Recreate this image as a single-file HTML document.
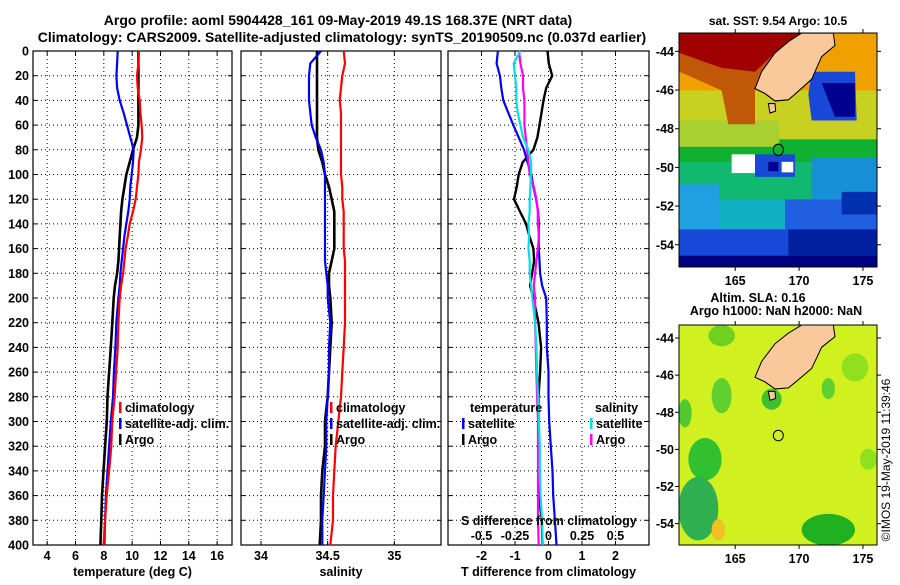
<!DOCTYPE html>
<html><head><meta charset="utf-8"><style>
body{margin:0;background:#fff;}
svg text{font-family:"Liberation Sans",sans-serif;font-weight:bold;font-size:12.5px;fill:#000;}
</style></head><body>
<svg id="fig" width="900" height="580" viewBox="0 0 900 580" xmlns="http://www.w3.org/2000/svg">
<text x="338" y="25" text-anchor="middle" style="font-size:14px">Argo profile: aoml 5904428_161 09-May-2019 49.1S 168.37E (NRT data)</text>
<text x="342" y="42" text-anchor="middle" style="font-size:14px">Climatology: CARS2009. Satellite-adjusted climatology: synTS_20190509.nc (0.037d earlier)</text>
<g id="plots"></g>
<defs>
<clipPath id="c1"><rect x="679" y="33" width="198" height="234"/></clipPath>
<clipPath id="c2"><rect x="679" y="325" width="198" height="220"/></clipPath>
</defs>
<text x="778" y="25" text-anchor="middle" style="font-size:12px">sat. SST: 9.54 Argo: 10.5</text>
<g clip-path="url(#c1)">
<g transform="translate(655 -3.43) scale(0.3333 0.3756)">
<rect x="73" y="97" width="592" height="623" fill="#10b030"/>
<rect x="73" y="97" width="592" height="200" fill="#f0a000"/>
<rect x="73" y="250" width="592" height="130" fill="#c8d020"/>
<rect x="73" y="330" width="300" height="70" fill="#a8d030"/>
<rect x="73" y="440" width="592" height="110" fill="#10b870"/>
<rect x="73" y="540" width="592" height="100" fill="#10b0c0"/>
<rect x="73" y="500" width="120" height="120" fill="#20a0e0"/>
<rect x="390" y="540" width="275" height="100" fill="#2060e0"/>
<rect x="73" y="620" width="592" height="100" fill="#1848d8"/>
<rect x="73" y="690" width="592" height="30" fill="#000080"/>
<rect x="400" y="620" width="265" height="70" fill="#0020a0"/>
<rect x="470" y="430" width="195" height="110" fill="#1890d8"/>
<rect x="560" y="520" width="105" height="60" fill="#0030b0"/>
<polygon points="73,97 440,97 380,140 330,200 300,250 300,340 220,340 200,250 100,210 73,200" fill="#c05808"/>
<polygon points="73,97 440,97 360,150 300,200 200,190 73,150" fill="#a00000"/>
<polygon points="470,200 600,200 605,330 470,330 460,260" fill="#1848d8"/>
<polygon points="500,230 600,230 600,320 540,320" fill="#000090"/>
<rect x="300" y="420" width="120" height="60" fill="#1848d8"/>
<rect x="230" y="420" width="70" height="50" fill="#fff"/>
<rect x="380" y="440" width="35" height="28" fill="#fff"/>
<rect x="340" y="440" width="30" height="25" fill="#000090"/>
<polygon points="440,97 535,97 540,130 500,160 470,220 420,260 400,275 360,278 330,258 300,245 320,200 360,150 400,120" fill="#f9c89b" stroke="#000" stroke-width="3"/>
<polygon points="340,285 360,285 362,305 345,310" fill="#f9c89b" stroke="#000" stroke-width="3"/>
<circle cx="370" cy="408" r="15" fill="#10b030" stroke="#000" stroke-width="3"/>
</g></g>
<rect x="679" y="33" width="198" height="234" fill="none" stroke="#000"/>
<text x="758" y="302" text-anchor="middle" style="font-size:12.5px">Altim. SLA: 0.16</text>
<text x="776" y="315" text-anchor="middle" style="font-size:12.5px">Argo h1000: NaN h2000: NaN</text>
<g clip-path="url(#c2)">
<g transform="translate(655 14.3) scale(0.3333 0.3531)">
<rect x="73" y="880" width="592" height="623" fill="#d0f020"/>
<ellipse cx="200" cy="910" rx="40" ry="30" fill="#70d020"/>
<ellipse cx="200" cy="1080" rx="30" ry="50" fill="#60d030"/>
<ellipse cx="150" cy="1260" rx="50" ry="60" fill="#30c030"/>
<ellipse cx="130" cy="1400" rx="60" ry="90" fill="#30b050"/>
<ellipse cx="520" cy="1460" rx="80" ry="45" fill="#20b020"/>
<ellipse cx="90" cy="1130" rx="20" ry="40" fill="#50c830"/>
<ellipse cx="600" cy="1000" rx="40" ry="40" fill="#90e020"/>
<ellipse cx="520" cy="1060" rx="20" ry="30" fill="#60d030"/>
<ellipse cx="640" cy="1260" rx="25" ry="30" fill="#90e020"/>
<ellipse cx="350" cy="1090" rx="30" ry="30" fill="#40c030"/>
<ellipse cx="190" cy="1460" rx="20" ry="30" fill="#f0c020"/>
<polygon points="440,880 535,880 540,913 500,943 470,1003 420,1043 400,1058 360,1061 330,1041 300,1028 320,983 360,933 400,903" fill="#f9c89b" stroke="#000" stroke-width="3"/>
<polygon points="340,1068 360,1068 362,1088 345,1093" fill="#f9c89b" stroke="#000" stroke-width="3"/>
<circle cx="370" cy="1193" r="15" fill="none" stroke="#000" stroke-width="3"/>
</g></g>
<rect x="679" y="325" width="198" height="220" fill="none" stroke="#000"/>
<text transform="translate(890 460) rotate(-90)" text-anchor="middle" style="font-weight:normal;font-size:12px">©IMOS 19-May-2019 11:39:46</text>
</svg>
<script>
// depth levels
const depthsUp=[0,10,20,30,40,50,60,70,80,90,100,110,120,130,140,150,160,170,180,190,200];
const depthsLo=[200,220,240,260,280,300,320,340,360,380,400];
const yTicks=[0,20,40,60,80,100,120,140,160,180,200,220,240,260,280,300,320,340,360,380,400];
// temperature
const tClimUp=[10.48,10.44,10.34,10.39,10.53,10.58,10.67,10.72,10.62,10.48,10.44,10.34,10.25,10.06,9.83,9.69,9.54,9.45,9.36,9.22,9.12];
const tClimLo=[9.12,9.03,8.98,8.87,8.76,8.59,8.53,8.37,8.2,8.09,7.98];
const tSatUp=[8.98,8.94,8.89,8.94,9.12,9.4,9.64,9.87,10.11,10.06,9.97,9.87,9.83,9.73,9.59,9.45,9.36,9.26,9.17,9.12,9.03];
const tSatLo=[9.03,8.88,8.82,8.71,8.65,8.49,8.37,8.26,8.15,8.09,8.04];
const tArgoUp=[10.44,10.44,10.44,10.44,10.44,10.44,10.44,10.34,10.06,9.83,9.59,9.45,9.31,9.22,9.17,9.12,9.08,9.03,8.94,8.79,8.7];
const tArgoLo=[8.7,8.6,8.49,8.37,8.26,8.21,8.09,7.98,7.87,7.82,7.76];
const tTicks=[4,6,8,10,12,14,16];
// salinity
const sClimUp=[34.62,34.63,34.61,34.6,34.59,34.6,34.6,34.6,34.6,34.6,34.6,34.61,34.61,34.62,34.62,34.62,34.62,34.63,34.63,34.63,34.63];
const sClimLo=[34.63,34.63,34.62,34.61,34.6,34.58,34.56,34.55,34.54,34.54,34.52];
const sSatUp=[34.45,34.37,34.36,34.36,34.36,34.37,34.38,34.41,34.45,34.47,34.48,34.48,34.48,34.48,34.48,34.48,34.48,34.48,34.49,34.5,34.5];
const sSatLo=[34.52,34.52,34.51,34.51,34.5,34.49,34.49,34.48,34.47,34.46,34.46];
const sArgoUp=[34.42,34.42,34.42,34.42,34.42,34.42,34.42,34.42,34.43,34.46,34.48,34.51,34.53,34.55,34.55,34.55,34.55,34.53,34.51,34.51,34.52];
const sArgoLo=[34.52,34.53,34.52,34.51,34.5,34.48,34.48,34.46,34.45,34.45,34.44];
const sTicks=[34,34.5,35];
const sTickLabels=["34","34.5","35"];
// differences
const dTSatUp=[-1.51,-1.55,-1.45,-1.41,-1.35,-1.2,-1.05,-0.89,-0.73,-0.63,-0.51,-0.45,-0.37,-0.31,-0.29,-0.29,-0.29,-0.27,-0.25,-0.19,-0.07];
const dTSatLo=[-0.07,-0.05,-0.05,0,0,0.02,0.07,0.12,0.14,0.19,0.24];
const dTArgoUp=[-0.03,0.01,0.11,-0.07,-0.15,-0.21,-0.27,-0.33,-0.45,-0.77,-0.89,-0.95,-1.03,-0.85,-0.67,-0.57,-0.45,-0.43,-0.49,-0.55,-0.45];
const dTArgoLo=[-0.45,-0.3,-0.22,-0.25,-0.3,-0.3,-0.28,-0.3,-0.28,-0.2,-0.18];
const dSSatUp=[-0.21,-0.26,-0.25,-0.24,-0.24,-0.23,-0.21,-0.19,-0.15,-0.13,-0.13,-0.135,-0.14,-0.14,-0.15,-0.145,-0.15,-0.14,-0.14,-0.13,-0.12];
const dSSatLo=[-0.1,-0.1,-0.09,-0.085,-0.078,-0.072,-0.065,-0.065,-0.06,-0.048,-0.043];
const dSArgoUp=[-0.22,-0.21,-0.19,-0.19,-0.18,-0.18,-0.18,-0.17,-0.16,-0.15,-0.14,-0.11,-0.09,-0.08,-0.08,-0.07,-0.08,-0.09,-0.1,-0.11,-0.1];
const dSArgoLo=[-0.1,-0.1,-0.095,-0.09,-0.085,-0.078,-0.078,-0.078,-0.078,-0.078,-0.073];
const dTTicks=[-2,-1,0,1,2];
const dSTicks=[-0.5,-0.25,0,0.25,0.5];
const dSTickLabels=["-0.5","-0.25","0","0.25","0.5"];
// map ticks
const latTicks=[-44,-46,-48,-50,-52,-54];
const lonTicks=[165,170,175];

const NS='http://www.w3.org/2000/svg';
const root=document.getElementById('plots');
function mk(tag,attrs,parent){const e=document.createElementNS(NS,tag);for(const k in attrs)e.setAttribute(k,attrs[k]);(parent||root).appendChild(e);return e;}
const Y0=51,Y1=545;
function yS(d){return Y0+(d/400)*(Y1-Y0);}
function linS(d0,d1,r0,r1){return v=>r0+(v-d0)/(d1-d0)*(r1-r0);}

function panel(name,x0,x1,xScale,ticks,labels,title,showY){
  const g=mk('g',{});
  
  
  yTicks.forEach(t=>{
    if(t>0&&t<400){const l=mk('line',{x1:x0,x2:x1,y1:yS(t),y2:yS(t),stroke:'#000','stroke-width':1,'stroke-dasharray':'1,3'},g);
    }
    mk('line',{x1:x0,x2:x0+4,y1:yS(t),y2:yS(t),stroke:'#000'},g);
    mk('line',{x1:x1-4,x2:x1,y1:yS(t),y2:yS(t),stroke:'#000'},g);
    if(showY){const tx=mk('text',{x:29,y:yS(t)+4.5,'text-anchor':'end'},g);tx.textContent=t;
      }
  });
  ticks.forEach((t,i)=>{
    const x=xScale(t);
    const l=mk('line',{x1:x,x2:x,y1:Y0,y2:Y1,stroke:'#000','stroke-dasharray':'1,3'},g);
    
    mk('line',{x1:x,x2:x,y1:Y1-4,y2:Y1,stroke:'#000'},g);
    mk('line',{x1:x,x2:x,y1:Y0,y2:Y0+4,stroke:'#000'},g);
    const tx=mk('text',{x:x,y:560,'text-anchor':'middle'},g);tx.textContent=labels[i];
    
  });
  mk('rect',{x:x0,y:Y0,width:x1-x0,height:Y1-Y0,fill:'none',stroke:'#000','stroke-width':1.2},g);
  const tt=mk('text',{x:(x0+x1)/2,y:576,'text-anchor':'middle'},g);tt.textContent=title;
  
  return g;
}
function series(g,name,xScale,up,lo,color,w){
  const pts=[];
  depthsUp.forEach((d,i)=>pts.push(xScale(up[i]).toFixed(1)+','+yS(d).toFixed(1)));
  depthsLo.forEach((d,i)=>{if(i>0)pts.push(xScale(lo[i]).toFixed(1)+','+yS(d).toFixed(1));});
  const p=mk('polyline',{points:pts.join(' '),fill:'none',stroke:color,'stroke-width':w,'stroke-linejoin':'miter'},g);
  
  
}
function legend(g,x,y,color,label,name){
  mk('rect',{x:x-1,y:y-10,width:2.5,height:11,fill:color},g);
  const t=mk('text',{x:x+5,y:y},g);t.textContent=label;
  
  
}
// panel 1
const xT=linS(3,17.05,33,232);
const g1=panel('temperature-panel',33,232,xT,tTicks,tTicks.map(String),'temperature (deg C)',true);
series(g1,'temperature-argo-line',xT,tArgoUp,tArgoLo,'#000',2.6);
series(g1,'temperature-satellite-line',xT,tSatUp,tSatLo,'#0000ff',2.2);
series(g1,'temperature-climatology-line',xT,tClimUp,tClimLo,'#ff0000',2.2);
legend(g1,120,412,'#f00','climatology','legend-climatology');
legend(g1,120,428,'#00f','satellite-adj. clim.','legend-satellite');
legend(g1,120,444,'#000','Argo','legend-argo');
// panel 2
const xS=linS(33.85,35.35,241,441);
const g2=panel('salinity-panel',241,441,xS,sTicks,sTickLabels,'salinity',false);
series(g2,'salinity-argo-line',xS,sArgoUp,sArgoLo,'#000',2.6);
series(g2,'salinity-satellite-line',xS,sSatUp,sSatLo,'#0000ff',2.2);
series(g2,'salinity-climatology-line',xS,sClimUp,sClimLo,'#ff0000',2.2);
legend(g2,331,412,'#f00','climatology','legend-climatology');
legend(g2,331,428,'#00f','satellite-adj. clim.','legend-satellite');
legend(g2,331,444,'#000','Argo','legend-argo');
// panel 3
const xD=linS(-3,3,448,649);
const xDS=linS(-0.75,0.75,448,649);
const g3=panel('difference-panel',448,649,xD,dTTicks,dTTicks.map(String),'T difference from climatology',false);
series(g3,'t-diff-argo-line',xD,dTArgoUp,dTArgoLo,'#000',2.4);
series(g3,'t-diff-satellite-line',xD,dTSatUp,dTSatLo,'#0000ff',2.2);
series(g3,'s-diff-argo-line',xDS,dSArgoUp,dSArgoLo,'#ff00ff',2.2);
series(g3,'s-diff-satellite-line',xDS,dSSatUp,dSSatLo,'#00e0e0',2.2);
const lt=mk('text',{x:470,y:412},g3);lt.textContent='temperature';

const ls=mk('text',{x:595,y:412},g3);ls.textContent='salinity';

legend(g3,463,428,'#00f','satellite','legend-t-satellite');
legend(g3,463,444,'#000','Argo','legend-t-argo');
legend(g3,591,428,'#00e0e0','satellite','legend-s-satellite');
legend(g3,591,444,'#f0f','Argo','legend-s-argo');
const st=mk('text',{x:461,y:525},g3);st.textContent='S difference from climatology';

dSTicks.forEach((t,i)=>{const tx=mk('text',{x:xDS(t),y:540,'text-anchor':'middle'},g3);tx.textContent=dSTickLabels[i];
  });
// map ticks
function mapAxes(top,bottom,lat0,lat1){
  const lat=linS(lat0,lat1,top,bottom);
  const lon=linS(160.6,176.1,679,877);
  latTicks.forEach(t=>{const y=lat(t);mk('line',{x1:675,x2:679,y1:y,y2:y,stroke:'#000'});mk('line',{x1:877,x2:881,y1:y,y2:y,stroke:'#000'});
    const tx=mk('text',{x:674,y:y+4.5,'text-anchor':'end'});tx.textContent=t;
    });
  lonTicks.forEach(t=>{const x=lon(t);mk('line',{x1:x,x2:x,y1:bottom,y2:bottom+4,stroke:'#000'});
    mk('line',{x1:x,x2:x,y1:top-4,y2:top,stroke:'#000'});
    const tx=mk('text',{x:x,y:bottom+18,'text-anchor':'middle'});tx.textContent=t;
    });
}
mapAxes(33,267,-43.05,-55.15);
mapAxes(325,545,-43.3,-55.15);
</script>
</body></html>
